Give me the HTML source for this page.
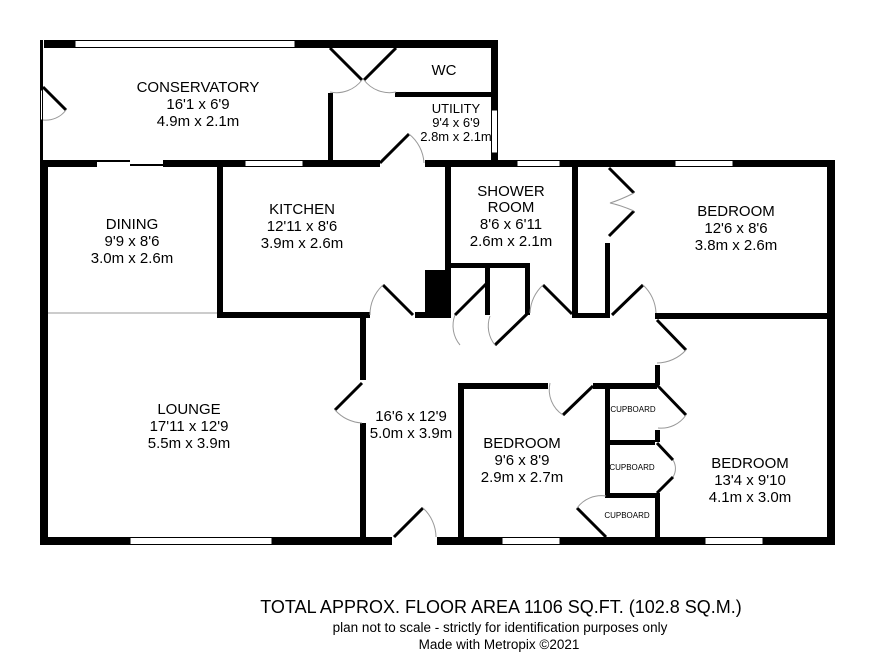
<!DOCTYPE html>
<html><head><style>
body{margin:0;background:#fff;}
svg{display:block;}
text{font-family:"Liberation Sans",Arial,sans-serif;fill:#000;text-anchor:middle;}
.r{font-size:15px;}
.s{font-size:13px;}
.c{font-size:8px;}
</style></head><body>
<svg width="886" height="654" viewBox="0 0 886 654" xmlns="http://www.w3.org/2000/svg">
<g fill="#000">
<rect x="44" y="40" width="453" height="8"/>
<rect x="491" y="40" width="7" height="70"/>
<rect x="491" y="153" width="7" height="14"/>
<rect x="40" y="40" width="3" height="50"/>
<rect x="40" y="120" width="3" height="40"/>
<rect x="395" y="92" width="97" height="5"/>
<rect x="328" y="93" width="5" height="70"/>
<rect x="40" y="160" width="57" height="7"/>
<rect x="163" y="160" width="82" height="7"/>
<rect x="303" y="160" width="77" height="7"/>
<rect x="425" y="160" width="92" height="7"/>
<rect x="560" y="160" width="115" height="7"/>
<rect x="733" y="160" width="102" height="7"/>
<rect x="40" y="160" width="8" height="385"/>
<rect x="827" y="160" width="8" height="385"/>
<rect x="40" y="537" width="90" height="8"/>
<rect x="272" y="537" width="120" height="8"/>
<rect x="437" y="537" width="65" height="8"/>
<rect x="560" y="537" width="145" height="8"/>
<rect x="763" y="537" width="72" height="8"/>
<rect x="217" y="163" width="6" height="155"/>
<rect x="217" y="312" width="153" height="6"/>
<rect x="415" y="312" width="35" height="6"/>
<rect x="445" y="163" width="6" height="155"/>
<rect x="425" y="270" width="25" height="48"/>
<rect x="450" y="263" width="80" height="5"/>
<rect x="485" y="263" width="5" height="52"/>
<rect x="525" y="263" width="5" height="52"/>
<rect x="572" y="163" width="6" height="155"/>
<rect x="605" y="243" width="5" height="75"/>
<rect x="572" y="313" width="38" height="5"/>
<rect x="655" y="313" width="180" height="6"/>
<rect x="360" y="315" width="6" height="65"/>
<rect x="360" y="423" width="6" height="122"/>
<rect x="458" y="383" width="90" height="6"/>
<rect x="593" y="383" width="64" height="6"/>
<rect x="458" y="383" width="6" height="162"/>
<rect x="605" y="383" width="5" height="115"/>
<rect x="655" y="365" width="5" height="20"/>
<rect x="655" y="430" width="5" height="12"/>
<rect x="605" y="440" width="50" height="5"/>
<rect x="605" y="493" width="55" height="5"/>
<rect x="655" y="493" width="5" height="50"/>
</g>
<g fill="#fff" stroke="#000" stroke-width="1">
<rect x="75" y="40.5" width="220" height="7"/>
<rect x="491.5" y="110" width="6" height="43"/>
<rect x="245" y="160.5" width="58" height="6"/>
<rect x="517" y="160.5" width="43" height="6"/>
<rect x="675" y="160.5" width="58" height="6"/>
<rect x="130" y="537.5" width="142" height="7"/>
<rect x="502" y="537.5" width="58" height="7"/>
<rect x="705" y="537.5" width="58" height="7"/>
<rect x="40.5" y="90" width="2" height="30"/>
</g>
<g stroke="#000" stroke-width="2">
<line x1="97" y1="161" x2="130" y2="161"/>
<line x1="130" y1="165" x2="163" y2="165"/>
</g>
<line x1="48" y1="313" x2="217" y2="313" stroke="#999" stroke-width="1"/>
<g stroke="#000" stroke-width="3" fill="none">
<line x1="43" y1="87" x2="66" y2="110"/>
<line x1="330" y1="48" x2="362" y2="80"/>
<line x1="396" y1="48" x2="364" y2="80"/>
<line x1="380" y1="163" x2="409" y2="134"/>
<line x1="383" y1="285" x2="413" y2="315"/>
<line x1="455" y1="315" x2="486" y2="284"/>
<line x1="495" y1="345" x2="527" y2="314"/>
<line x1="543" y1="285" x2="572" y2="314"/>
<line x1="609" y1="236" x2="634" y2="211"/>
<line x1="609" y1="168" x2="634" y2="193"/>
<line x1="612" y1="315" x2="643" y2="285"/>
<line x1="657" y1="320" x2="686" y2="350"/>
<line x1="335" y1="410" x2="362" y2="383"/>
<line x1="563" y1="415" x2="593" y2="386"/>
<line x1="657" y1="385" x2="686" y2="415"/>
<line x1="657" y1="443" x2="673" y2="460"/>
<line x1="657" y1="493" x2="673" y2="477"/>
<line x1="577" y1="508" x2="606" y2="537"/>
<line x1="394" y1="537" x2="423" y2="508"/>
</g>
<g stroke="#999" stroke-width="1" fill="none">
<path d="M66 110 A25 25 0 0 1 43 120"/>
<path d="M330 92 A32 32 0 0 0 362 80"/>
<path d="M396 92 A32 32 0 0 1 364 80"/>
<path d="M409 134 A40 40 0 0 1 424 163"/>
<path d="M383 285 A40 40 0 0 0 370 315"/>
<path d="M455 315 A30 30 0 0 0 460 345"/>
<path d="M495 345 A30 30 0 0 1 490 316"/>
<path d="M543 285 A40 40 0 0 0 530 313"/>
<path d="M634 193 Q620 200 610 203 Q620 205 634 211"/>
<path d="M643 285 A40 40 0 0 1 656 313"/>
<path d="M686 350 A40 40 0 0 1 657 363"/>
<path d="M335 410 A40 40 0 0 0 362 423"/>
<path d="M563 415 A30 30 0 0 1 550 383"/>
<path d="M686 415 A30 30 0 0 1 658 428"/>
<path d="M673 460 A16 16 0 0 1 673 477"/>
<path d="M577 508 A30 30 0 0 1 606 496"/>
<path d="M423 508 A40 40 0 0 1 436 537"/>
</g>
<text class="r" x="198" y="92">CONSERVATORY</text>
<text class="r" x="198" y="109">16'1 x 6'9</text>
<text class="r" x="198" y="126">4.9m x 2.1m</text>
<text class="r" x="444" y="75">WC</text>
<text class="s" x="456" y="113">UTILITY</text>
<text class="s" x="456" y="127">9'4 x 6'9</text>
<text class="s" x="456" y="141">2.8m x 2.1m</text>
<text class="r" x="132" y="229">DINING</text>
<text class="r" x="132" y="246">9'9 x 8'6</text>
<text class="r" x="132" y="263">3.0m x 2.6m</text>
<text class="r" x="302" y="214">KITCHEN</text>
<text class="r" x="302" y="231">12'11 x 8'6</text>
<text class="r" x="302" y="248">3.9m x 2.6m</text>
<text class="r" x="511" y="196">SHOWER</text>
<text class="r" x="511" y="212">ROOM</text>
<text class="r" x="511" y="229">8'6 x 6'11</text>
<text class="r" x="511" y="246">2.6m x 2.1m</text>
<text class="r" x="736" y="216">BEDROOM</text>
<text class="r" x="736" y="233">12'6 x 8'6</text>
<text class="r" x="736" y="250">3.8m x 2.6m</text>
<text class="r" x="189" y="414">LOUNGE</text>
<text class="r" x="189" y="431">17'11 x 12'9</text>
<text class="r" x="189" y="448">5.5m x 3.9m</text>
<text class="r" x="411" y="421">16'6 x 12'9</text>
<text class="r" x="411" y="438">5.0m x 3.9m</text>
<text class="r" x="522" y="448">BEDROOM</text>
<text class="r" x="522" y="465">9'6 x 8'9</text>
<text class="r" x="522" y="482">2.9m x 2.7m</text>
<text class="r" x="750" y="468">BEDROOM</text>
<text class="r" x="750" y="485">13'4 x 9'10</text>
<text class="r" x="750" y="502">4.1m x 3.0m</text>
<text class="c" x="633" y="412">CUPBOARD</text>
<text class="c" x="632" y="470">CUPBOARD</text>
<text class="c" x="627" y="518">CUPBOARD</text>
<text x="501" y="613" style="font-size:18px">TOTAL APPROX. FLOOR AREA 1106 SQ.FT. (102.8 SQ.M.)</text>
<text x="500" y="632" style="font-size:13.5px">plan not to scale - strictly for identification purposes only</text>
<text x="499" y="649" style="font-size:13.5px">Made with Metropix ©2021</text>
</svg>
</body></html>
